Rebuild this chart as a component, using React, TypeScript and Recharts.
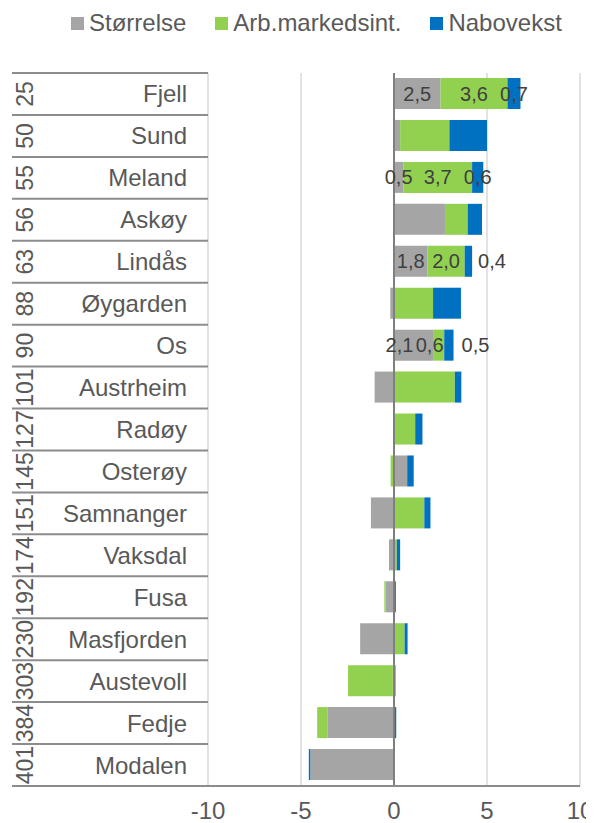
import {
  BarChart,
  Bar,
  XAxis,
  YAxis,
  CartesianGrid,
  Legend,
  ReferenceLine,
  LabelList,
} from 'recharts';

const municipalities = [
  'Fjell', 'Sund', 'Meland', 'Askøy', 'Lindås', 'Øygarden', 'Os', 'Austrheim', 'Radøy',
  'Osterøy', 'Samnanger', 'Vaksdal', 'Fusa', 'Masfjorden', 'Austevoll', 'Fedje', 'Modalen',
];
const ranks = [25, 50, 55, 56, 63, 88, 90, 101, 127, 145, 151, 174, 192, 230, 303, 384, 401];

const storrelse = [2.5, 0.33, 0.5, 2.74, 1.8, -0.2, 2.1, -1.04, 0.04, 0.71, -1.24, -0.27, -0.45, -1.82, -0.06, -3.56, -4.5];
const arbMarked = [3.6, 2.65, 3.7, 1.22, 2.0, 2.1, 0.6, 3.27, 1.1, -0.18, 1.63, 0.15, -0.07, 0.57, -2.41, -0.57, 0.0];
const nabovekst = [0.7, 2.02, 0.6, 0.77, 0.4, 1.5, 0.5, 0.35, 0.39, 0.35, 0.33, 0.18, 0.1, 0.16, 0.08, 0.12, -0.08];

// rows that carry data labels in the original
const labelledRows = ['Fjell', 'Meland', 'Lindås', 'Os'];

const xTicks = [-10, -5, 0, 5, 10];

const series = [
  { key: 'storrelse', name: 'Størrelse', color: '#A5A5A5' },
  { key: 'arbMarked', name: 'Arb.markedsint.', color: '#92D050' },
  { key: 'nabovekst', name: 'Nabovekst', color: '#0070C0' },
];

const data = municipalities.map((name, i) => ({
  name,
  rank: ranks[i],
  storrelse: storrelse[i],
  arbMarked: arbMarked[i],
  nabovekst: nabovekst[i],
}));

// a few labels were nudged by hand in the source chart
const labelTweaks: Record<string, { dx?: number; outside?: number }> = {
  'Os|storrelse': { dx: -14 },
  'Os|arbMarked': { dx: -9 },
  'Os|nabovekst': { outside: 8 },
  'Lindås|nabovekst': { outside: 6 },
};

const FONT = '"Liberation Sans", Arial, sans-serif';
const TEXT = '#595959';
const RULE = '#8c8c8c';

const WIDTH = 586;
const HEIGHT = 815;
const MARGIN = { top: 65, right: 14, bottom: 7, left: 4 };
const Y_AXIS_W = 196;
const X_AXIS_H = 30;
const PLOT_LEFT = MARGIN.left + Y_AXIS_W;
const ROW_H = (HEIGHT - MARGIN.top - MARGIN.bottom - X_AXIS_H) / municipalities.length;

const fmt = (v: number) => v.toFixed(1).replace('.', ',');

function CategoryTick(props: any) {
  const { y, payload } = props;
  const idx = municipalities.indexOf(payload.value);
  const half = ROW_H / 2;
  const last = idx === municipalities.length - 1;
  return (
    <g>
      <line x1={MARGIN.left} x2={PLOT_LEFT} y1={y - half} y2={y - half} stroke={RULE} strokeWidth={2} />
      {last && (
        <line x1={MARGIN.left} x2={PLOT_LEFT} y1={y + half} y2={y + half} stroke={RULE} strokeWidth={2} />
      )}
      <text
        transform={`translate(${MARGIN.left + 13},${y}) rotate(-90)`}
        textAnchor="middle"
        dominantBaseline="central"
        fontSize={23}
        fill={TEXT}
      >
        {ranks[idx]}
      </text>
      <text x={PLOT_LEFT - 21} y={y} textAnchor="end" dominantBaseline="central" fontSize={24} fill={TEXT}>
        {payload.value}
      </text>
    </g>
  );
}

const makeLabel = (key: string) => (props: any) => {
  const { x, y, width, height, value, index } = props;
  const row = municipalities[index];
  if (!labelledRows.includes(row)) return null;
  const tweak = labelTweaks[`${row}|${key}`] || {};
  const cy = Number(y) + Number(height) / 2;
  if (tweak.outside !== undefined) {
    return (
      <text x={Number(x) + Number(width) + tweak.outside} y={cy} textAnchor="start" dominantBaseline="central" fontSize={20} fill="#404040">
        {fmt(Number(value))}
      </text>
    );
  }
  return (
    <text x={Number(x) + Number(width) / 2 + (tweak.dx || 0)} y={cy} textAnchor="middle" dominantBaseline="central" fontSize={20} fill="#404040">
      {fmt(Number(value))}
    </text>
  );
};

const renderLegend = () => (
  <div style={{ display: 'flex', alignItems: 'center', fontFamily: FONT, fontSize: 24, lineHeight: '28px', color: TEXT }}>
    {series.map((s, i) => (
      <div key={s.key} style={{ display: 'flex', alignItems: 'center', marginLeft: i ? 29 : 0 }}>
        <span style={{ display: 'inline-block', width: 13, height: 13, background: s.color, marginRight: 5 }} />
        <span style={{ whiteSpace: 'nowrap' }}>{s.name}</span>
      </div>
    ))}
  </div>
);

export default function App() {
  return (
    <div style={{ width: WIDTH, height: HEIGHT, fontFamily: FONT }}>
      <BarChart
        width={WIDTH}
        height={HEIGHT}
        data={data}
        layout="vertical"
        stackOffset="sign"
        margin={MARGIN}
        style={{ fontFamily: FONT }}
      >
        <CartesianGrid horizontal={false} stroke="#d9d9d9" strokeWidth={1.5} />
        <XAxis
          type="number"
          domain={[-10, 10]}
          ticks={xTicks}
          height={X_AXIS_H}
          tickLine={false}
          tickSize={0}
          tickMargin={16}
          axisLine={{ stroke: RULE, strokeWidth: 2 }}
          tick={{ fontSize: 24, fill: TEXT }}
        />
        <YAxis
          type="category"
          dataKey="name"
          width={Y_AXIS_W}
          axisLine={false}
          tickLine={false}
          tickSize={0}
          tickMargin={0}
          interval={0}
          tick={<CategoryTick />}
        />
        <Legend
          layout="horizontal"
          verticalAlign="middle"
          align="center"
          content={renderLegend}
          wrapperStyle={{ top: 1, left: 63, width: 'auto' }}
        />
        {series.map((s) => (
          <Bar key={s.key} dataKey={s.key} name={s.name} stackId="a" fill={s.color} barSize={31} isAnimationActive={false}>
            <LabelList dataKey={s.key} content={makeLabel(s.key)} />
          </Bar>
        ))}
        <ReferenceLine x={0} stroke="#7f7f7f" strokeWidth={2} />
      </BarChart>
    </div>
  );
}
